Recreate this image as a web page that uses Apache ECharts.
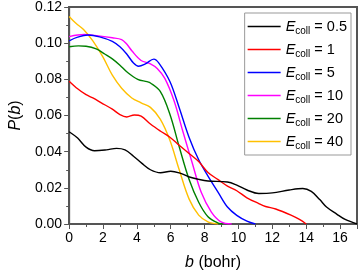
<!DOCTYPE html>
<html>
<head>
<meta charset="utf-8">
<script src="https://cdn.jsdelivr.net/npm/echarts@6/dist/echarts.min.js"></script>
<style>
html,body{margin:0;padding:0;background:#fff;}
#c{width:360px;height:276px;}
</style>
</head>
<body>
<div id="c"></div>
<script>
// Legend labels (collision energies)
const energies = ['0.5', '1', '5', '10', '20', '40'];
const colors = ['#000000', '#ff0000', '#0000ff', '#ff00ff', '#008000', '#ffc000'];

// P(b) data, [b (bohr), P]
const e05 = [[0,0.051],[0.5,0.0475],[1.0,0.0425],[1.5,0.0405],[2.2,0.041],[2.8,0.0418],[3.3,0.041],[3.8,0.0375],[4.3,0.0335],[4.8,0.030],[5.4,0.0283],[6.0,0.0292],[6.5,0.0283],[7.1,0.026],[7.65,0.0247],[8.2,0.0238],[9.35,0.0232],[9.9,0.0215],[10.5,0.0188],[11.2,0.0169],[12.0,0.0172],[13.0,0.0188],[13.8,0.0196],[14.3,0.018],[14.8,0.0135],[15.2,0.0094],[15.8,0.0055],[16.3,0.0025],[17.0,0.0]];
const e1 = [[0,0.079],[0.5,0.0748],[1.0,0.0715],[1.4,0.0697],[1.9,0.067],[2.55,0.0635],[3.0,0.0605],[3.4,0.0592],[3.85,0.0603],[4.25,0.0597],[4.8,0.0553],[5.4,0.0513],[5.95,0.048],[6.5,0.0435],[7.08,0.039],[7.65,0.0345],[8.2,0.0285],[8.8,0.0245],[9.35,0.021],[9.9,0.0184],[10.5,0.0145],[11.2,0.0113],[11.6,0.0097],[12.2,0.0083],[13.1,0.0049],[13.6,0.0025],[14.0,0.0]];
const e5 = [[0,0.1013],[0.5,0.1033],[1.1,0.1045],[1.8,0.1035],[2.55,0.101],[3.0,0.098],[3.4,0.094],[3.8,0.089],[4.1,0.0872],[4.5,0.0885],[5.0,0.0912],[5.3,0.089],[5.95,0.0788],[6.5,0.0643],[7.08,0.048],[7.65,0.0355],[8.2,0.0265],[8.8,0.0175],[9.35,0.0094],[9.9,0.0048],[10.5,0.0016],[11.0,0.0]];
const e10 = [[0,0.1036],[0.5,0.1045],[0.9,0.1048],[1.5,0.1043],[2.55,0.103],[3.1,0.102],[3.4,0.0995],[3.7,0.0958],[4.25,0.0904],[4.8,0.0886],[5.2,0.086],[5.65,0.0805],[6.2,0.068],[6.7,0.0517],[7.27,0.0337],[7.8,0.0175],[8.4,0.0066],[8.97,0.0012],[9.6,0.0]];
const e20 = [[0,0.098],[0.55,0.0985],[1.0,0.0983],[1.6,0.0968],[2.1,0.094],[2.55,0.0913],[3.0,0.0878],[3.4,0.0842],[4.05,0.080],[4.6,0.0787],[4.8,0.078],[5.38,0.0733],[5.95,0.0607],[6.5,0.0427],[7.08,0.0247],[7.65,0.012],[8.2,0.004],[8.8,0.0005],[9.1,0.0]];
const e40 = [[0,0.1148],[0.4,0.111],[0.85,0.1076],[1.4,0.1013],[2.0,0.0923],[2.55,0.0823],[3.1,0.0751],[3.7,0.0697],[4.25,0.067],[4.8,0.0645],[5.38,0.058],[5.95,0.0463],[6.5,0.030],[7.08,0.0139],[7.65,0.0049],[8.2,0.0012],[8.8,0.0]];
const allData = [e05, e1, e5, e10, e20, e40];

// Axis settings
const xMin = 0, xMax = 17, xStep = 2;
const yMin = 0, yMax = 0.12, yStep = 0.02;

const FONT = 'Liberation Sans, Arial, sans-serif';
const chart = echarts.init(document.getElementById('c'), null, {renderer: 'canvas'});

const series = energies.map((e, i) => ({
  name: e,
  type: 'line',
  data: allData[i],
  smooth: 0.35,
  symbol: 'none',
  lineStyle: {color: colors[i], width: 1.4},
  itemStyle: {color: colors[i]},
  z: 10 - i
}));

chart.setOption({
  animation: false,
  backgroundColor: '#fff',
  grid: {left: 55, right: 3, top: 7, bottom: 47, show: true, borderColor: '#555', borderWidth: 2, backgroundColor: 'transparent'},
  legend: {
    orient: 'vertical',
    right: 9,
    top: 13,
    icon: 'rect',
    itemWidth: 33,
    itemHeight: 1.5,
    itemGap: 4,
    padding: [4, 4, 4, 3],
    borderColor: '#999',
    borderWidth: 1,
    backgroundColor: '#fff',
    data: energies,
    formatter: name => '{e|E}{s|coll}{t| = ' + name + '}',
    textStyle: {
      fontFamily: FONT,
      rich: {
        e: {fontFamily: FONT, fontStyle: 'italic', fontSize: 14.5, color: '#000', lineHeight: 18},
        s: {fontFamily: FONT, fontSize: 10, color: '#000', lineHeight: 18, padding: [9, 0, 0, 0]},
        t: {fontFamily: FONT, fontSize: 14.5, color: '#000', lineHeight: 18}
      }
    }
  },
  xAxis: {
    type: 'value',
    min: xMin, max: xMax, interval: xStep,
    name: '{i|b} (bohr)',
    nameLocation: 'middle',
    nameGap: 31,
    nameTextStyle: {fontFamily: FONT, fontSize: 16, color: '#000', rich: {i: {fontFamily: FONT, fontSize: 16, fontStyle: 'italic', color: '#000'}}},
    axisLine: {show: true, onZero: false, lineStyle: {color: '#555', width: 2}},
    axisTick: {show: true, inside: false, length: 5, lineStyle: {color: '#555', width: 1}},
    minorTick: {show: true, splitNumber: 2, length: 3, lineStyle: {color: '#555', width: 1}},
    axisLabel: {fontFamily: FONT, fontSize: 14, color: '#000', margin: 7, showMaxLabel: false},
    splitLine: {show: false}
  },
  yAxis: {
    type: 'value',
    min: yMin, max: yMax, interval: yStep,
    name: '{i|P}({i|b})',
    nameLocation: 'middle',
    nameGap: 38,
    nameTextStyle: {fontFamily: FONT, fontSize: 16, color: '#000', rich: {i: {fontFamily: FONT, fontSize: 16, fontStyle: 'italic', color: '#000'}}},
    axisLine: {show: true, onZero: false, lineStyle: {color: '#555', width: 2}},
    axisTick: {show: true, inside: false, length: 5, lineStyle: {color: '#555', width: 1}},
    minorTick: {show: true, splitNumber: 2, length: 3, lineStyle: {color: '#555', width: 1}},
    axisLabel: {fontFamily: FONT, fontSize: 14, color: '#000', margin: 7, formatter: v => v.toFixed(2)},
    splitLine: {show: false}
  },
  series: series
});
</script>
</body>
</html>
